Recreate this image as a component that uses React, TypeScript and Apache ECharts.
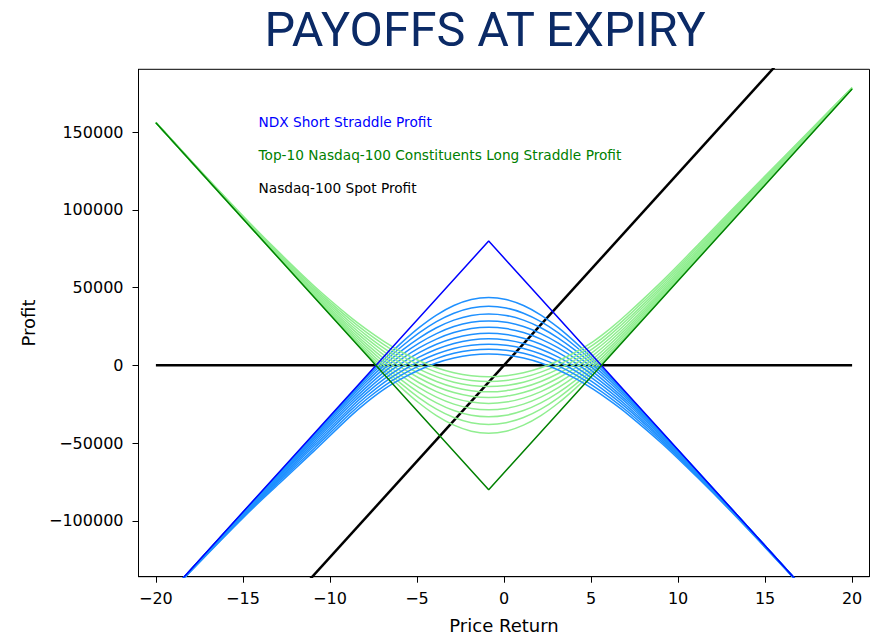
import React, { useEffect, useRef } from "react";
import * as echarts from "echarts";

// Price return sample points (x, in %)
const RETURNS = [-20, -17.88, -14.88, -12.88, -10.88, -8.88, -7.88, -6.88, -5.88, -4.88, -3.88, -2.88, -1.88, -0.88, 0.12, 1.12, 2.12, 3.12, 4.12, 5.12, 6.12, 7.12, 9.12, 11.12, 13.12, 16.12, 20];

// NDX short straddle profit before expiry (10 curves)
const NDX_1 = [-156160, -130010, -93100, -68570, -43990, -19450, -7500, 3960, 14630, 24250, 32340, 38500, 42360, 43650, 42360, 38500, 32340, 24250, 14630, 3960, -7430, -19270, -43590, -68220, -92900, -129950, -177870];
const NDX_2 = [-156200, -130070, -93320, -68970, -44630, -20350, -8740, 2190, 12120, 20870, 28150, 33570, 36910, 38030, 36910, 33570, 28150, 20870, 12120, 2190, -8600, -19990, -43830, -68270, -92920, -129950, -177870];
const NDX_3 = [-156230, -130140, -93550, -69630, -45450, -21540, -10270, 160, 9450, 17540, 24170, 29090, 32110, 33080, 32110, 29090, 24170, 17540, 9450, 160, -10060, -21000, -44250, -68580, -92950, -129960, -177870];
const NDX_4 = [-156260, -130210, -93840, -70190, -46420, -22940, -12000, -1990, 6760, 14310, 20450, 24970, 27720, 28610, 27720, 24970, 20450, 14310, 6760, -1990, -11720, -22220, -44820, -68790, -93040, -129970, -177870];
const NDX_5 = [-156300, -130300, -94190, -70890, -47550, -24490, -13850, -4200, 4110, 11200, 16900, 21090, 23650, 24490, 23650, 21090, 16900, 11200, 4110, -4200, -13500, -23590, -45550, -69140, -93190, -130000, -177870];
const NDX_6 = [-156350, -130410, -94600, -71660, -48820, -26150, -15760, -6420, 1440, 8160, 13600, 17480, 19860, 20650, 19860, 17480, 13600, 8160, 1440, -6420, -15340, -25070, -46420, -69560, -93400, -130050, -177880];
const NDX_7 = [-156400, -130560, -95060, -72560, -50190, -27890, -17690, -8700, -1130, 5240, 10350, 14090, 16290, 17050, 16290, 14090, 10350, 5240, -1130, -8700, -17200, -26630, -47390, -70110, -93660, -130140, -177890];
const NDX_8 = [-156480, -130730, -95630, -73530, -51620, -29640, -19720, -10890, -3700, 2470, 7270, 10880, 12920, 13650, 12920, 10880, 7270, 2470, -3700, -10890, -19160, -28200, -48420, -70730, -94030, -130250, -177910];
const NDX_9 = [-156580, -130940, -96200, -74580, -53160, -31490, -21660, -13140, -6150, -320, 4340, 7740, 9710, 10410, 9710, 7740, 4340, -320, -6150, -13140, -21030, -29870, -49560, -71430, -94400, -130400, -177940];
const NDX_10 = [-156690, -131200, -96860, -75710, -54740, -33310, -23700, -15310, -8590, -2990, 1540, 4730, 6650, 7320, 6650, 4730, 1540, -2990, -8590, -15310, -23000, -31510, -50740, -72210, -94860, -130600, -177990];

// Top-10 constituents long straddle profit before expiry (10 curves)
const TOP_1 = [156130, 129950, 92900, 68220, 43590, 19270, 7430, -3960, -14630, -24250, -32340, -38500, -42360, -43650, -42360, -38500, -32340, -24250, -14630, -3960, 7510, 19470, 43970, 68720, 93450, 130350, 177950];
const TOP_2 = [156140, 129950, 92920, 68270, 43830, 19990, 8600, -2190, -12120, -20870, -28150, -33570, -36910, -38030, -36910, -33570, -28150, -20870, -12120, -2190, 8760, 20390, 44590, 69270, 94020, 130750, 178030];
const TOP_3 = [156140, 129960, 92950, 68580, 44250, 21000, 10060, -160, -9450, -17540, -24170, -29090, -32110, -33080, -32110, -29090, -24170, -17540, -9450, -160, 10300, 21600, 45390, 70080, 94600, 131160, 178110];
const TOP_4 = [156140, 129970, 93040, 68790, 44820, 22220, 11720, 1990, -6760, -14310, -20450, -24970, -27720, -28610, -27720, -24970, -20450, -14310, -6760, 1990, 12040, 23020, 46340, 70790, 95240, 131570, 178190];
const TOP_5 = [156150, 130000, 93190, 69140, 45550, 23590, 13500, 4200, -4110, -11200, -16900, -21090, -23650, -24490, -23650, -21090, -16900, -11200, -4110, 4200, 13900, 24590, 47450, 71640, 95940, 132000, 178270];
const TOP_6 = [156170, 130050, 93400, 69560, 46420, 25070, 15340, 6420, -1440, -8160, -13600, -17480, -19860, -20650, -19860, -17480, -13600, -8160, -1440, 6420, 15820, 26270, 48700, 72560, 96700, 132450, 178360];
const TOP_7 = [156190, 130140, 93660, 70110, 47390, 26630, 17200, 8700, 1130, -5240, -10350, -14090, -16290, -17050, -16290, -14090, -10350, -5240, 1130, 8700, 17760, 28030, 50050, 73610, 97510, 132940, 178450];
const TOP_8 = [156240, 130250, 94030, 70730, 48420, 28200, 19160, 10890, 3700, -2470, -7270, -10880, -12920, -13650, -12920, -10880, -7270, -2470, 3700, 10890, 19800, 29800, 51460, 74730, 98430, 133450, 178550];
const TOP_9 = [156310, 130400, 94400, 71430, 49560, 29870, 21030, 13140, 6150, 320, -4340, -7740, -9710, -10410, -9710, -7740, -4340, 320, 6150, 13140, 21750, 31670, 52980, 75930, 99350, 134000, 178660];
const TOP_10 = [156390, 130600, 94860, 72210, 50740, 31510, 23000, 15310, 8590, 2990, -1540, -4730, -6650, -7320, -6650, -4730, -1540, 2990, 8590, 15310, 23800, 33510, 54540, 77210, 100360, 134600, 178790];

// Expiry payoffs (V-shapes)
const EXPIRY_X = [-20, -0.88, 20];
const NDX_EXPIRY = [-156130, 80000, -177870];
const TOP_EXPIRY = [156130, -80000, 177870];

// Spot profit and zero line
const SPOT_X = [-20, 20];
const SPOT_PROFIT = [-247000, 247000];
const ZERO_PROFIT = [0, 0];

const X_TICKS = [-20, -15, -10, -5, 0, 5, 10, 15, 20];
const Y_TICKS = [-100000, -50000, 0, 50000, 100000, 150000];

const TITLE = "PAYOFFS AT EXPIRY";
const LEGEND_NAMES = [
  "NDX Short Straddle Profit",
  "Top-10 Nasdaq-100 Constituents Long Straddle Profit",
  "Nasdaq-100 Spot Profit",
];
const LEGEND_COLORS = ["#0000ff", "#008000", "#000000"];

const FONT = "DejaVu Sans";

const zip = (xs: number[], ys: number[]) => xs.map((x, i) => [x, ys[i]]);
const fmt = (v: number) => (v < 0 ? "\u2212" + Math.abs(v) : String(v));

export default function App() {
  const ref = useRef<HTMLDivElement>(null);
  useEffect(() => {
    if (!ref.current) return;
    const chart = echarts.init(ref.current, undefined, { renderer: "svg" });
    const ndxCurves = [NDX_1, NDX_2, NDX_3, NDX_4, NDX_5, NDX_6, NDX_7, NDX_8, NDX_9, NDX_10];
    const topCurves = [TOP_1, TOP_2, TOP_3, TOP_4, TOP_5, TOP_6, TOP_7, TOP_8, TOP_9, TOP_10];

    const base = {
      type: "line" as const,
      showSymbol: false,
      symbol: "none",
      silent: true,
      clip: true,
    };

    const series: any[] = [
      { ...base, name: "zero", data: zip(SPOT_X, ZERO_PROFIT), lineStyle: { color: "#000", width: 2.5 } },
      { ...base, name: LEGEND_NAMES[2], data: zip(SPOT_X, SPOT_PROFIT), lineStyle: { color: "#000", width: 2.5 } },
    ];
    ndxCurves.forEach((c, i) => {
      series.push({ ...base, name: LEGEND_NAMES[0], smooth: 0.3, data: zip(RETURNS, c), lineStyle: { color: "#1e90ff", width: 1.5 } });
      series.push({ ...base, name: LEGEND_NAMES[1], smooth: 0.3, data: zip(RETURNS, topCurves[i]), lineStyle: { color: "#90ee90", width: 1.5 } });
    });
    series.push({ ...base, name: LEGEND_NAMES[0], data: zip(EXPIRY_X, NDX_EXPIRY), lineStyle: { color: "#0000ff", width: 1.5 } });
    series.push({ ...base, name: LEGEND_NAMES[1], data: zip(EXPIRY_X, TOP_EXPIRY), lineStyle: { color: "#008000", width: 1.5 } });

    const axisCommon = {
      type: "value" as const,
      splitLine: { show: false },
      axisLine: { show: true, onZero: false, lineStyle: { color: "#000", width: 1 } },
    };

    chart.setOption({
      animation: false,
      backgroundColor: "#fff",
      grid: {
        left: 138.5,
        top: 69.3,
        width: 731,
        height: 507.4,
        show: true,
        borderColor: "#000",
        borderWidth: 1,
        containLabel: false,
        outerBoundsMode: "none",
      },
      xAxis: {
        ...axisCommon,
        min: -21,
        max: 21,
        axisTick: { show: true, length: 6, customValues: X_TICKS, lineStyle: { color: "#000", width: 1 } },
        axisLabel: { customValues: X_TICKS, formatter: fmt, fontSize: 16, fontFamily: FONT, color: "#000", margin: 14 },
        name: "Price Return",
        nameLocation: "middle",
        nameGap: 40,
        nameTextStyle: { fontSize: 18, fontFamily: FONT, color: "#000" },
      },
      yAxis: {
        ...axisCommon,
        min: -136000,
        max: 190500,
        axisTick: { show: true, length: 6, customValues: Y_TICKS, lineStyle: { color: "#000", width: 1 } },
        axisLabel: { customValues: Y_TICKS, formatter: fmt, fontSize: 16, fontFamily: FONT, color: "#000", margin: 15 },
        name: "Profit",
        nameLocation: "middle",
        nameGap: 101,
        nameTextStyle: { fontSize: 18, fontFamily: FONT, color: "#000" },
      },
      graphic: [
        {
          type: "text",
          x: 485,
          y: 29,
          style: { text: TITLE, font: "48.5px Roboto", fill: "#0b2a66", align: "center", verticalAlign: "middle" },
        },
        ...LEGEND_NAMES.map((t, i) => ({
          type: "text",
          x: 258.5,
          y: 121.7 + i * 33.3,
          style: { text: t, font: `13.7px '${FONT}'`, fill: LEGEND_COLORS[i], align: "left", verticalAlign: "middle" },
        })),
      ],
      series,
    });
    return () => chart.dispose();
  }, []);
  return <div ref={ref} style={{ position: "fixed", left: 0, top: 0, width: 873, height: 636 }} />;
}
